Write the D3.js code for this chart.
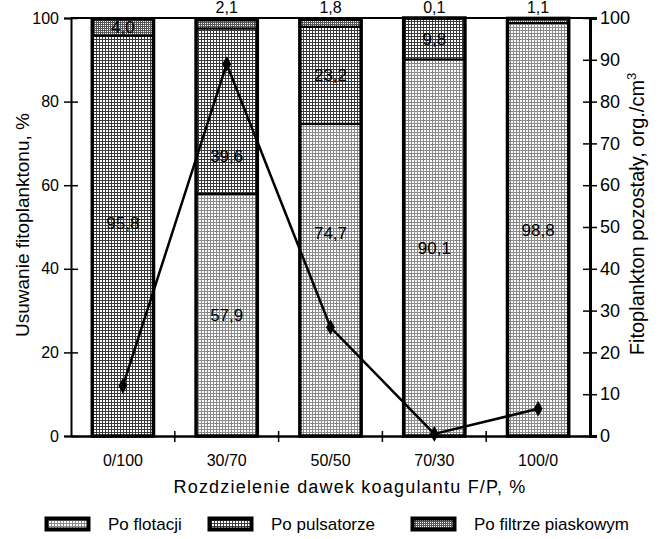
<!DOCTYPE html>
<html>
<head>
<meta charset="utf-8">
<script src="https://cdn.jsdelivr.net/npm/d3@7"></script>
<style>
  body { margin: 0; background: #fff; }
  text { font-family: "Liberation Sans", Arial, sans-serif; fill: #000; }
</style>
</head>
<body>
<svg id="chart" width="659" height="539"></svg>
<script>
// data
const categories = ["0/100", "30/70", "50/50", "70/30", "100/0"];
const poFlotacji = [0, 57.9, 74.7, 90.1, 98.8];
const poPulsatorze = [95.8, 39.6, 23.2, 9.8, 0];
const poFiltrze = [4.0, 2.1, 1.8, 0.1, 1.1];
const fitoplankton = [12, 89, 26, 0.5, 6.5];
const leftTicks = [0, 20, 40, 60, 80, 100];
const rightTicks = [0, 10, 20, 30, 40, 50, 60, 70, 80, 90, 100];
const seriesNames = ["Po flotacji", "Po pulsatorze", "Po filtrze piaskowym"];

const svg = d3.select("#chart");
const plotLeft = 71, plotRight = 590, plotTop = 18, plotBottom = 436;

// hatch-like patterns
const defs = svg.append("defs");
function gridPattern(id, step, color, lw) {
  let p = defs.append("pattern").attr("id", id)
    .attr("patternUnits", "userSpaceOnUse")
    .attr("width", step).attr("height", step);
  p.append("rect").attr("width", step).attr("height", step).attr("fill", "#fff");
  p.append("rect").attr("width", step).attr("height", lw).attr("fill", color);
  p.append("rect").attr("width", lw).attr("height", step).attr("fill", color);
}
gridPattern("pFlot", 3, "#8a8a8a", 1);
gridPattern("pPuls", 3, "#3a3a3a", 1);
gridPattern("pFiltr", 2, "#555", 1);
const fills = ["url(#pFlot)", "url(#pPuls)", "url(#pFiltr)"];

const x = d3.scaleBand().domain(categories).range([plotLeft, plotRight])
  .paddingInner(0.41).paddingOuter(0.205);
const y = d3.scaleLinear().domain([0, 100]).range([plotBottom, plotTop]);
const y2 = d3.scaleLinear().domain([0, 100]).range([plotBottom, plotTop]);

// stacked segments
let rows = categories.map(function(c, i) {
  return {cat: c, flot: poFlotacji[i], puls: poPulsatorze[i], filtr: poFiltrze[i]};
});
let stack = d3.stack().keys(["flot", "puls", "filtr"])(rows);

let layers = svg.append("g").selectAll("g").data(stack).enter().append("g")
  .attr("fill", function(d, i) { return fills[i]; });

layers.selectAll("rect")
  .data(function(d) { return d.filter(function(s) { return s[1] - s[0] > 0; }); })
  .enter().append("rect")
    .attr("x", function(d) { return x(d.data.cat); })
    .attr("width", x.bandwidth())
    .attr("y", function(d) { return y(d[1]); })
    .attr("height", function(d) { return y(d[0]) - y(d[1]); })
    .attr("stroke", "#000")
    .attr("stroke-width", 2);

// thick outline around each whole bar
svg.append("g").selectAll("rect").data(rows).enter().append("rect")
  .attr("x", function(d) { return x(d.cat); })
  .attr("width", x.bandwidth())
  .attr("y", function(d) { return y(d.flot + d.puls + d.filtr); })
  .attr("height", function(d) { return plotBottom - y(d.flot + d.puls + d.filtr); })
  .attr("fill", "none").attr("stroke", "#000").attr("stroke-width", 3.5);

// value labels
const fmt = function(v) { return d3.format(".1f")(v).replace(".", ","); };
let labels = [];
rows.forEach(function(d, i) {
  let cx = x(d.cat) + x.bandwidth() / 2;
  if (d.flot > 0) labels.push({x: cx, v: d.flot, at: d.flot / 2});
  if (d.puls > 0) labels.push({x: cx, v: d.puls, at: d.flot + d.puls / 2});
  if (i === 0) labels.push({x: cx, v: d.filtr, at: d.flot + d.puls + d.filtr / 2});
  else labels.push({x: cx, v: d.filtr, above: true});
});
// a few labels sit off-centre in the original
const moved = {"95.8": 51, "39.6": 67, "74.7": 48.5};
labels.forEach(function(l) { if (moved[l.v] !== undefined) l.at = moved[l.v]; });

svg.append("g").selectAll("text").data(labels).enter().append("text")
  .attr("x", function(d) { return d.x; })
  .attr("y", function(d) { return d.above ? 13 : y(d.at) + 6; })
  .attr("text-anchor", "middle")
  .attr("font-size", function(d) { return d.above ? 16 : 17; })
  .text(function(d) { return fmt(d.v); });

// frame top line
svg.append("line").attr("x1", plotLeft).attr("x2", plotRight)
  .attr("y1", plotTop).attr("y2", plotTop)
  .attr("stroke", "#000").attr("stroke-width", 2);

// axes (crossing ticks)
let axL = svg.append("g").attr("transform", "translate(" + plotLeft + ",0)")
  .call(d3.axisLeft(y).tickValues(leftTicks).tickSize(7).tickPadding(5));
axL.selectAll(".tick line").attr("x2", 7).attr("x1", -7);
axL.selectAll(".tick text").attr("font-size", 16);
axL.select(".domain").attr("stroke-width", 2);

let axR = svg.append("g").attr("transform", "translate(" + plotRight + ",0)")
  .call(d3.axisRight(y2).tickValues(rightTicks).tickSize(7).tickPadding(3));
axR.selectAll(".tick line").attr("x1", -7).attr("x2", 7);
axR.selectAll(".tick text").attr("font-size", 18);
axR.select(".domain").attr("stroke-width", 3);

let axB = svg.append("g").attr("transform", "translate(0," + plotBottom + ")")
  .call(d3.axisBottom(x).tickSize(0).tickPadding(19));
axB.selectAll(".tick text").attr("font-size", 16);
axB.select(".domain").attr("stroke-width", 2.5);
let boundaries = categories.slice(1).map(function(c) { return x(c) - x.step() * x.paddingInner() / 2; });
svg.append("g").selectAll("line").data(boundaries).enter().append("line")
  .attr("x1", function(d) { return d; }).attr("x2", function(d) { return d; })
  .attr("y1", plotBottom - 5).attr("y2", plotBottom + 6)
  .attr("stroke", "#000").attr("stroke-width", 1.5);

svg.selectAll(".tick text")
  .attr("font-family", "Liberation Sans, Arial, sans-serif").attr("fill", "#000");
svg.selectAll(".tick line").attr("stroke", "#000").attr("stroke-width", 1.5);
svg.selectAll(".domain").attr("stroke", "#000");

// line series on right axis
let cxs = categories.map(function(c) { return x(c) + x.bandwidth() / 2; });
let pts = fitoplankton.map(function(v, i) { return [cxs[i], y2(v)]; });
svg.append("path").datum(pts)
  .attr("d", d3.line())
  .attr("fill", "none").attr("stroke", "#000").attr("stroke-width", 2.5);
svg.append("g").selectAll("path").data(pts).enter().append("path")
  .attr("d", d3.symbol(d3.symbolDiamond, 70))
  .attr("transform", function(d) { return "translate(" + d[0] + "," + d[1] + ")"; })
  .attr("fill", "#000");

// axis titles
svg.append("text")
  .attr("transform", "translate(29,225) rotate(-90)")
  .attr("text-anchor", "middle").attr("font-size", 19)
  .text("Usuwanie fitoplanktonu, %");

let rt = svg.append("text")
  .attr("transform", "translate(644,214) rotate(-90)")
  .attr("text-anchor", "middle").attr("font-size", 20);
rt.append("tspan").text("Fitoplankton pozostały, org./cm");
rt.append("tspan").attr("font-size", 13).attr("dy", -8).text("3");

svg.append("text")
  .attr("x", 350).attr("y", 493)
  .attr("text-anchor", "middle").attr("font-size", 18)
  .attr("letter-spacing", 1.2)
  .text("Rozdzielenie dawek koagulantu F/P, %");

// legend
const legendX = [45, 208, 411];
let leg = svg.append("g").selectAll("g").data(seriesNames).enter().append("g")
  .attr("transform", function(d, i) { return "translate(" + legendX[i] + ",517)"; });
leg.append("rect").attr("x", 1.5).attr("y", 1.5).attr("width", 42).attr("height", 11)
  .attr("fill", function(d, i) { return fills[i]; })
  .attr("stroke", "#000").attr("stroke-width", 4);
leg.append("text").attr("x", 63).attr("y", 13).attr("font-size", 17)
  .text(function(d) { return d; });
</script>
</body>
</html>
